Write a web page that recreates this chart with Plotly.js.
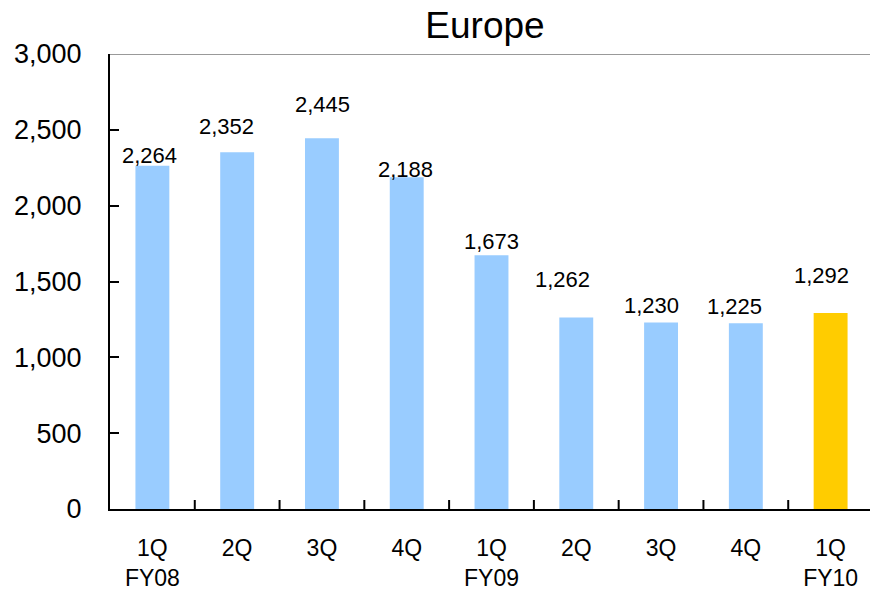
<!DOCTYPE html>
<html>
<head>
<meta charset="utf-8">
<script src="https://cdn.plot.ly/plotly-3.0.1.min.js"></script>
<style>
html,body{margin:0;padding:0;overflow:hidden;background:#fff;width:870px;height:595px;}
#chart{width:880px;height:595px;}
</style>
</head>
<body>
<div id="chart"></div>
<script>
// Data
var quarters = ["1Q", "2Q", "3Q", "4Q", "1Q", "2Q", "3Q", "4Q", "1Q"];
var fiscalYears = ["FY08", "", "", "", "FY09", "", "", "", "FY10"];
var values = [2264, 2352, 2445, 2188, 1673, 1262, 1230, 1225, 1292];
var valueLabels = ["2,264", "2,352", "2,445", "2,188", "1,673", "1,262", "1,230", "1,225", "1,292"];
var yTickVals = [0, 500, 1000, 1500, 2000, 2500, 3000];
var yTickText = ["0", "500", "1,000", "1,500", "2,000", "2,500", "3,000"];

// Styles
var barColors = ["#99CCFF", "#99CCFF", "#99CCFF", "#99CCFF", "#99CCFF", "#99CCFF", "#99CCFF", "#99CCFF", "#FFCC00"];
var labelYShift = [10, 26, 34, 8, 14, 38, 17, 17, 38];
var labelXShift = [-3, -11, 1, -1, 0, -14, -10, -11, -9];

var cats = quarters.map(function (q, i) { return i; });
var tickText = quarters.map(function (q, i) {
  return fiscalYears[i] ? q + "<br>" + fiscalYears[i] : q;
});

var font = "Liberation Sans, Arial, sans-serif";

var annotations = values.map(function (v, i) {
  return {
    x: cats[i], y: v, xref: "x", yref: "y",
    text: valueLabels[i], showarrow: false,
    yanchor: "middle", xanchor: "center",
    yshift: labelYShift[i], xshift: labelXShift[i],
    font: {family: font, size: 22, color: "#000"}
  };
});

var trace = {
  type: "bar",
  x: cats,
  y: values,
  marker: {color: barColors},
  width: 0.4,
  hoverinfo: "none"
};

var layout = {
  width: 880, height: 595,
  margin: {l: 110, r: 7, t: 54, b: 86, pad: 0},
  paper_bgcolor: "#fff", plot_bgcolor: "#fff",
  font: {family: font, color: "#000"},
  showlegend: false,
  title: {
    text: "Europe",
    font: {family: font, size: 37, color: "#000"},
    x: 485 / 880, xanchor: "center", xref: "container",
    y: 1 - 25 / 595, yanchor: "middle", yref: "container"
  },
  xaxis: {
    type: "linear",
    range: [-0.5, 8.5],
    tickmode: "array",
    tickvals: cats,
    ticktext: tickText,
    ticks: "",
    showgrid: false,
    zeroline: false,
    showline: true, linecolor: "#000", linewidth: 2,
    tickfont: {family: font, size: 23, color: "#000"},
    ticklabelstandoff: 17,
    fixedrange: true
  },
  yaxis: {
    range: [0, 3000],
    tickmode: "array",
    tickvals: yTickVals,
    ticktext: yTickText,
    ticks: "inside", ticklen: 9, tickwidth: 2, tickcolor: "#000",
    showgrid: false,
    zeroline: false,
    showline: true, linecolor: "#000", linewidth: 2,
    tickfont: {family: font, size: 27, color: "#000"},
    ticklabelstandoff: 21,
    fixedrange: true
  },
  shapes: [
    {type: "line", xref: "paper", yref: "y", x0: 0, x1: 1, y0: 3000, y1: 3000,
     line: {color: "#999999", width: 2}}
  ].concat(cats.map(function (c) {
    return {type: "line", xref: "x", yref: "paper", x0: c + 0.5, x1: c + 0.5,
      y0: 0, y1: 9, ysizemode: "pixel", yanchor: 0,
      line: {color: "#000", width: 2}};
  })),
  annotations: annotations,
  bargap: 0.6
};

Plotly.newPlot("chart", [trace], layout, {displayModeBar: false, staticPlot: true});
</script>
</body>
</html>
